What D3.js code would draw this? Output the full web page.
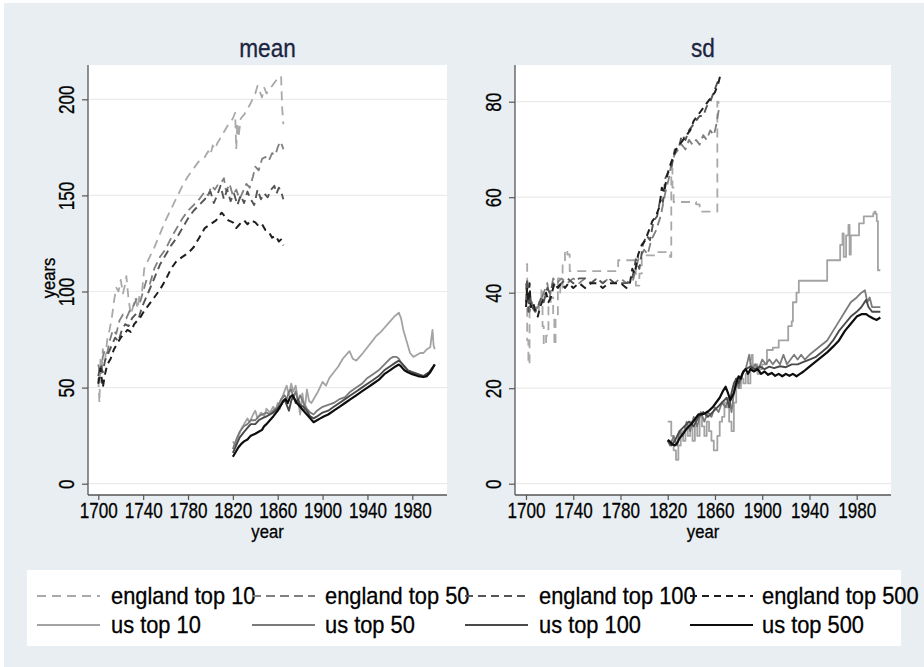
<!DOCTYPE html>
<html>
<head>
<meta charset="utf-8">
<script src="https://cdn.jsdelivr.net/npm/d3@7"></script>
<style>
  html, body { margin: 0; padding: 0; background: #ffffff; }
  svg { display: block; }
</style>
</head>
<body>
<svg id="chart" width="924" height="667"></svg>
<script>
// ---------------- data ----------------
// each series: [year, value]
const xTicks = [1700, 1740, 1780, 1820, 1860, 1900, 1940, 1980];
const meanTicks = [0, 50, 100, 150, 200];
const sdTicks = [0, 20, 40, 60, 80];
const panelTitles = ["mean", "sd"];
const seriesLabels = ["england top 10", "england top 50", "england top 100", "england top 500",
                      "us top 10", "us top 50", "us top 100", "us top 500"];

// mean values (years)
const engTop10Mean = [[1700,55],[1701,42],[1702,66],[1703,58],[1704,70],[1706,64],[1708,75],[1710,80],[1712,86],[1714,95],[1716,102],[1718,100],[1720,106],[1722,99],[1724,104],[1725,108],[1727,96],[1729,88],[1731,92],[1733,97],[1735,91],[1737,99],[1739,100],[1741,112],[1745,117],[1750,123],[1755,130],[1760,137],[1765,143],[1770,149],[1775,155],[1780,160],[1785,164],[1790,168],[1795,170],[1798,173],[1800,171],[1802,176],[1804,174],[1806,177],[1810,181],[1815,186],[1820,190],[1822,193],[1823,174],[1824,188],[1825,180],[1827,190],[1830,192],[1835,197],[1840,203],[1842,207],[1844,204],[1846,201],[1848,206],[1850,203],[1855,207],[1860,211],[1863,212],[1864,195],[1865,187]];
const engTop50Mean = [[1700,62],[1702,56],[1704,66],[1706,70],[1708,68],[1710,74],[1713,80],[1716,78],[1719,85],[1722,88],[1725,86],[1728,90],[1731,92],[1734,96],[1737,94],[1740,100],[1743,106],[1746,104],[1750,112],[1755,118],[1760,122],[1765,128],[1770,133],[1775,138],[1780,142],[1785,145],[1790,148],[1795,152],[1798,150],[1801,155],[1804,153],[1807,156],[1810,157],[1812,159],[1814,152],[1817,156],[1820,150],[1823,153],[1826,148],[1829,152],[1832,156],[1835,154],[1838,160],[1840,165],[1843,163],[1846,169],[1849,170],[1852,168],[1855,172],[1858,171],[1860,175],[1862,178],[1864,176],[1865,174]];
const engTop100Mean = [[1700,56],[1702,62],[1704,58],[1706,64],[1709,68],[1712,72],[1715,76],[1718,74],[1721,80],[1724,83],[1727,82],[1730,86],[1733,88],[1736,86],[1739,92],[1742,96],[1745,100],[1750,107],[1755,114],[1760,119],[1765,124],[1770,128],[1775,133],[1780,138],[1785,142],[1790,145],[1795,148],[1800,152],[1803,146],[1806,150],[1809,155],[1812,148],[1815,153],[1818,147],[1821,151],[1824,145],[1827,150],[1830,146],[1833,152],[1836,148],[1839,145],[1842,153],[1845,148],[1848,151],[1851,149],[1854,153],[1857,155],[1859,151],[1861,154],[1863,152],[1865,148]];
const engTop500Mean = [[1700,52],[1702,60],[1704,50],[1706,57],[1708,62],[1711,65],[1714,70],[1717,73],[1720,76],[1723,78],[1726,80],[1729,79],[1732,83],[1735,85],[1738,87],[1741,90],[1745,93],[1750,97],[1755,101],[1760,106],[1765,112],[1770,116],[1775,118],[1780,120],[1785,123],[1790,128],[1795,133],[1800,135],[1805,137],[1810,141],[1813,139],[1816,137],[1820,136],[1823,133],[1826,135],[1830,137],[1833,135],[1836,137],[1840,136],[1843,134],[1846,135],[1849,132],[1852,131],[1855,128],[1858,129],[1861,126],[1863,127],[1865,124]];
const usTop10Mean = [[1820,22],[1822,20],[1825,25],[1828,29],[1830,31],[1833,34],[1835,32],[1838,36],[1840,38],[1842,34],[1845,37],[1848,35],[1850,39],[1853,37],[1856,40],[1858,38],[1860,42],[1862,39],[1864,45],[1866,48],[1868,51],[1870,46],[1872,52],[1874,48],[1876,51],[1878,44],[1880,36],[1882,47],[1884,38],[1886,49],[1888,43],[1890,42],[1893,45],[1896,48],[1900,53],[1903,51],[1906,55],[1910,58],[1914,61],[1918,65],[1921,67],[1924,69],[1927,65],[1930,64],[1933,66],[1936,68],[1940,71],[1944,74],[1948,77],[1952,79],[1955,81],[1958,83],[1961,85],[1964,87],[1966,88],[1968,89],[1970,86],[1972,80],[1975,74],[1978,68],[1981,66],[1984,67],[1987,68],[1990,68],[1993,70],[1996,71],[1998,80],[1999,72],[2000,70]];
const usTop50Mean = [[1820,18],[1823,23],[1826,27],[1830,30],[1833,31],[1836,33],[1840,33],[1843,35],[1846,36],[1850,37],[1853,36],[1856,38],[1860,40],[1863,44],[1866,46],[1868,44],[1870,48],[1872,49],[1874,45],[1876,48],[1878,43],[1880,46],[1883,42],[1886,39],[1889,37],[1892,36],[1895,38],[1900,40],[1905,41],[1910,42],[1915,44],[1920,45],[1925,48],[1930,50],[1935,52],[1940,55],[1945,57],[1950,59],[1955,62],[1960,65],[1963,66],[1966,66],[1968,65],[1970,63],[1973,61],[1976,59],[1980,58],[1985,57],[1990,56],[1995,58],[2000,62]];
const usTop100Mean = [[1820,16],[1823,20],[1826,24],[1830,27],[1833,29],[1836,31],[1840,31],[1843,33],[1846,34],[1850,35],[1853,36],[1856,37],[1860,39],[1863,41],[1866,44],[1868,41],[1870,38],[1872,43],[1874,46],[1876,42],[1878,44],[1880,41],[1883,40],[1886,38],[1889,35],[1892,34],[1895,35],[1900,37],[1905,38],[1910,40],[1915,42],[1920,44],[1925,46],[1930,48],[1935,50],[1940,52],[1945,54],[1950,56],[1955,59],[1960,61],[1965,63],[1968,64],[1970,63],[1973,61],[1976,59],[1980,58],[1985,57],[1990,56],[1995,58],[2000,62]];
const usTop500Mean = [[1820,14],[1822,16],[1825,19],[1828,21],[1830,22],[1833,23],[1836,25],[1840,26],[1843,27],[1846,28],[1848,30],[1850,31],[1853,33],[1856,35],[1860,38],[1863,41],[1865,43],[1867,44],[1869,42],[1871,45],[1873,46],[1875,44],[1877,42],[1880,40],[1883,38],[1886,36],[1889,34],[1892,32],[1895,33],[1898,34],[1901,35],[1905,36],[1910,38],[1915,40],[1920,42],[1925,44],[1930,46],[1935,48],[1940,50],[1945,52],[1950,54],[1955,57],[1960,59],[1965,61],[1968,62],[1970,61],[1973,59],[1976,58],[1980,57],[1985,56],[1990,55.5],[1993,56],[1996,58],[1998,60],[2000,62]];

// standard deviations
const engTop10Sd = [[1700,46],[1701,30],[1702,25],[1703,38],[1705,36],[1707,37],[1709,36],[1711,38],[1713,41],[1714,33],[1715,29],[1717,31],[1719,37],[1721,39],[1723,35],[1724,29],[1725,35],[1727,43],[1729,40],[1731,46],[1733,49],[1735,48],[1737,44.5],[1778,46.8],[1793,41.5],[1796,44],[1798,47.8],[1812,48.5],[1822,47.5],[1823,66],[1824,62],[1825,59],[1844,58.5],[1847,57],[1862,80],[1863,79]];
const engTop50Sd = [[1700,42],[1701,38],[1702,40],[1703,36],[1705,38],[1707,36],[1710,37],[1712,38],[1715,40],[1718,42],[1720,39],[1723,43],[1726,42],[1730,43],[1735,42],[1740,43],[1745,42],[1750,43],[1755,42],[1760,43],[1765,42],[1770,43],[1775,42],[1780,43],[1785,42],[1790,42],[1792,44],[1795,47],[1798,48],[1800,49],[1803,48],[1806,51],[1810,53],[1814,56],[1818,61],[1821,64],[1823,67],[1826,69],[1829,70],[1832,71],[1835,70],[1838,72],[1841,71],[1844,72],[1847,71],[1850,73],[1853,72],[1856,74],[1859,73],[1861,75],[1863,78],[1864,79]];
const engTop100Sd = [[1700,38],[1701,43],[1702,36],[1703,40],[1705,37],[1708,36],[1710,37],[1713,39],[1715,38],[1718,41],[1720,40],[1723,42],[1726,41],[1730,42],[1735,43],[1740,42],[1745,43],[1750,43],[1755,42],[1760,43],[1765,42],[1770,43],[1775,42],[1780,42],[1785,42],[1790,43],[1793,47],[1796,45],[1799,50],[1802,52],[1805,51],[1808,55],[1811,56],[1814,60],[1816,59],[1818,64],[1820,65],[1823,66],[1826,70],[1829,70],[1832,73],[1835,72],[1838,74],[1841,75],[1844,76],[1847,77],[1850,77],[1853,79],[1856,80],[1859,82],[1862,84],[1864,85]];
const engTop500Sd = [[1700,37],[1701,41],[1702,38],[1703,42],[1704,37],[1706,38],[1708,36],[1710,35],[1712,37],[1715,39],[1717,40],[1719,38],[1721,39],[1724,42],[1727,41],[1730,42],[1733,41],[1736,42],[1740,41],[1745,42],[1750,41],[1755,42],[1760,42],[1765,41],[1770,42],[1775,42],[1780,42],[1785,41],[1788,42],[1790,45],[1792,44],[1795,48],[1798,50],[1801,51],[1804,53],[1807,55],[1810,56],[1813,58],[1815,62],[1817,61],[1819,64],[1821,66],[1824,68],[1827,70],[1830,71],[1833,72],[1836,73],[1839,74],[1842,76],[1845,77],[1848,78],[1851,79],[1854,80],[1857,81],[1860,82],[1863,84],[1865,86]];
const usTop10Sd = [[1820,13],[1823,10],[1825,7],[1827,5],[1829,8],[1831,11],[1833,9],[1835,12],[1837,10],[1839,13],[1841,9],[1843,12],[1845,10],[1847,14],[1849,12],[1851,10],[1853,13],[1855,11],[1857,9],[1859,7],[1862,10],[1864,13],[1866,14],[1868,17],[1870,16],[1872,13],[1874,11],[1876,17],[1878,22],[1880,20],[1882,22],[1884,21],[1886,23],[1888,21],[1890,26],[1891,27],[1892,24],[1894,25],[1896,23],[1898,24],[1900,25],[1904,28],[1909,28.5],[1914,30],[1922,33],[1925,34],[1926,38],[1929,40],[1931,42.5],[1955,46.8],[1966,50],[1968,52.4],[1969,47.5],[1971,52],[1973,54.2],[1974,48],[1975,52],[1982,54.5],[1986,56],[1994,56.6],[1995,57],[1996,56.5],[1997,55],[1998,44.7],[2000,44.7]];
const usTop50Sd = [[1820,9],[1822,8],[1825,10],[1828,8],[1830,11],[1833,10],[1836,13],[1839,11],[1842,14],[1845,12],[1848,15],[1851,13],[1854,15],[1857,14],[1860,16],[1863,15],[1866,17],[1869,16],[1872,18],[1874,15],[1876,19],[1878,22],[1880,20],[1883,23],[1886,24],[1889,27],[1891,24],[1894,25],[1897,24],[1900,26],[1903,25],[1906,26],[1909,25],[1912,26],[1915,25],[1918,27],[1921,25],[1924,26],[1927,27],[1930,26],[1933,27],[1936,26],[1940,27],[1945,28],[1950,29],[1955,30],[1960,32],[1965,34],[1970,36],[1975,38],[1980,39],[1984,40],[1987,40.5],[1989,38],[1991,39],[1993,37],[1996,37],[2000,37]];
const usTop100Sd = [[1820,9],[1823,8],[1826,9],[1830,11],[1834,12],[1838,13],[1842,12],[1846,14],[1850,15],[1854,14],[1858,15],[1862,16],[1866,17],[1870,18],[1872,16],[1874,19],[1876,21],[1878,22],[1880,21],[1883,23],[1886,24],[1890,24.5],[1894,24],[1898,24.5],[1902,24],[1906,24.5],[1910,24.2],[1915,24.6],[1920,24.4],[1925,25],[1930,25],[1935,25.5],[1940,26],[1945,26.5],[1950,27.5],[1955,28.5],[1960,30],[1965,32],[1970,33.5],[1975,35],[1980,36],[1984,37],[1988,38.5],[1990,37],[1993,36],[1996,36],[2000,36]];
const usTop500Sd = [[1820,9.2],[1822,8.8],[1824,8.2],[1826,8],[1828,8.5],[1830,9.5],[1833,10.5],[1836,11.5],[1840,12.5],[1843,13.5],[1846,14.5],[1849,14.5],[1852,14.8],[1855,15.3],[1858,16],[1861,17],[1864,18],[1867,19.5],[1869,20.3],[1871,19],[1873,17.5],[1876,19],[1878,21],[1880,22.5],[1882,22],[1884,23.5],[1886,24],[1888,23],[1890,24],[1893,23.5],[1896,24],[1899,23],[1902,23.5],[1905,22.8],[1908,23.2],[1911,22.6],[1914,23],[1917,22.5],[1920,23],[1923,22.6],[1926,23],[1929,22.5],[1932,23],[1935,23.5],[1940,24.5],[1945,25.5],[1950,26.5],[1955,27.5],[1960,28.7],[1965,30],[1970,32],[1975,33.5],[1980,35],[1984,35.5],[1988,35.5],[1991,35],[1994,34.6],[1997,34.3],[2000,34.8]];

// ---------------- styles ----------------
const FONT = "'Liberation Sans', Arial, Helvetica, sans-serif";
const lineStyles = [
  { color: "#a9a9a9", width: 1.8, dash: "9,6" },
  { color: "#808080", width: 1.8, dash: "9,5" },
  { color: "#555555", width: 1.9, dash: "8,5" },
  { color: "#1e1e1e", width: 2.0, dash: "7,5" },
  { color: "#a3a3a3", width: 1.8, dash: null },
  { color: "#7b7b7b", width: 1.8, dash: null },
  { color: "#4a4a4a", width: 1.9, dash: null },
  { color: "#0d0d0d", width: 2.2, dash: null }
];

const panels = [
  { title: panelTitles[0], ytitle: "years", ticks: meanTicks,
    series: [engTop10Mean, engTop50Mean, engTop100Mean, engTop500Mean, usTop10Mean, usTop50Mean, usTop100Mean, usTop500Mean],
    steps: [],
    box: { x0: 88, x1: 447, top: 65, bottom: 495 },
    xRange: [98.3, 412.3], yRange: [483.7, 99.3], yDomain: [0, 200] },
  { title: panelTitles[1], ytitle: null, ticks: sdTicks,
    series: [engTop10Sd, engTop50Sd, engTop100Sd, engTop500Sd, usTop10Sd, usTop50Sd, usTop100Sd, usTop500Sd],
    steps: [0, 4],
    box: { x0: 515, x1: 891, top: 65, bottom: 495 },
    xRange: [526, 856.7], yRange: [483.7, 101.7], yDomain: [0, 80] }
];

const svg = d3.select("#chart");

// page background
svg.append("rect").attr("x", 0).attr("y", 0).attr("width", 924).attr("height", 667).attr("fill", "#ffffff");
svg.append("rect").attr("x", 4).attr("y", 3).attr("width", 920).attr("height", 664).attr("fill", "#e8eef1");

function addText(g, str, x, y, o) {
  const color = o.color || "#000";
  return g.append("text")
    .attr("transform", `translate(${x},${y}) rotate(${o.rotate || 0}) scale(${o.sx || 1},1)`)
    .attr("text-anchor", o.anchor || "middle")
    .attr("font-family", FONT)
    .attr("font-size", o.size)
    .attr("fill", color)
    .attr("stroke", color)
    .attr("stroke-width", o.weight || 0.3)
    .text(str);
}

panels.forEach(p => {
  const g = svg.append("g");
  const b = p.box;
  const x = d3.scaleLinear().domain([1700, 1980]).range(p.xRange);
  const y = d3.scaleLinear().domain(p.yDomain).range(p.yRange);

  // plot region
  g.append("rect").attr("x", b.x0).attr("y", b.top)
    .attr("width", b.x1 - b.x0).attr("height", b.bottom - b.top).attr("fill", "#ffffff");

  // gridlines
  g.selectAll(".grid").data(p.ticks).enter().append("line")
    .attr("x1", b.x0 + 1).attr("x2", b.x1)
    .attr("y1", d => y(d)).attr("y2", d => y(d))
    .attr("stroke", "#ebebeb").attr("stroke-width", 1.2);

  // series
  p.series.forEach((data, i) => {
    const st = lineStyles[i];
    const line = d3.line().x(d => x(d[0])).y(d => y(d[1]))
      .curve(p.steps.includes(i) ? d3.curveStepAfter : d3.curveLinear);
    g.append("path").datum(data)
      .attr("d", line)
      .attr("fill", "none")
      .attr("stroke", st.color)
      .attr("stroke-width", st.width)
      .attr("stroke-linejoin", "round")
      .attr("stroke-dasharray", st.dash);
  });

  // axes (tick marks from d3, axis lines spanning the plot region)
  const yAxis = g.append("g").attr("transform", `translate(${b.x0},0)`)
    .call(d3.axisLeft(y).tickValues(p.ticks).tickSize(6).tickFormat(d3.format("d")));
  const xAxis = g.append("g").attr("transform", `translate(0,${b.bottom})`)
    .call(d3.axisBottom(x).tickValues(xTicks).tickSize(5).tickFormat(d3.format("d")));
  [yAxis, xAxis].forEach(a => {
    a.select(".domain").remove();
    a.selectAll(".tick line").attr("stroke", "#555").attr("stroke-width", 1.2);
    a.selectAll(".tick text").remove();
  });
  yAxis.selectAll(".tick").each(function (d) {
    addText(d3.select(this), String(d), -14, 0, { size: 22.5, sx: 0.76, rotate: -90 });
  });
  xAxis.selectAll(".tick").each(function (d) {
    addText(d3.select(this), String(d), 0, 23, { size: 22.5, sx: 0.76 });
  });

  g.append("line").attr("x1", b.x0).attr("x2", b.x0).attr("y1", b.top).attr("y2", b.bottom)
    .attr("stroke", "#555").attr("stroke-width", 1.3);
  g.append("line").attr("x1", b.x0).attr("x2", b.x1).attr("y1", b.bottom).attr("y2", b.bottom)
    .attr("stroke", "#555").attr("stroke-width", 1.3);

  // titles
  const cx = (b.x0 + b.x1) / 2;
  addText(g, p.title, cx, 57, { size: 26, sx: 0.87, color: "#1b2540" });
  addText(g, "year", cx, 538, { size: 18.5, sx: 0.9 });
  if (p.ytitle) addText(g, p.ytitle, 55, (b.top + b.bottom) / 2 - 2, { size: 18.5, sx: 0.9, rotate: -90 });
});

// ---------------- legend ----------------
const leg = svg.append("g");
leg.append("rect").attr("x", 27).attr("y", 570).attr("width", 874).attr("height", 76).attr("fill", "#ffffff");
const keyX = [37, 252, 465, 690];
const textX = [111, 325, 539, 762];
const rowY = [596, 625];
seriesLabels.forEach((lab, i) => {
  const row = Math.floor(i / 4), col = i % 4;
  const st = lineStyles[i];
  leg.append("line")
    .attr("x1", keyX[col]).attr("x2", keyX[col] + 63)
    .attr("y1", rowY[row]).attr("y2", rowY[row])
    .attr("stroke", st.color).attr("stroke-width", st.width)
    .attr("stroke-dasharray", st.dash);
  addText(leg, lab, textX[col], rowY[row] + 8, { size: 23, sx: 0.95, anchor: "start" });
});
</script>
</body>
</html>
